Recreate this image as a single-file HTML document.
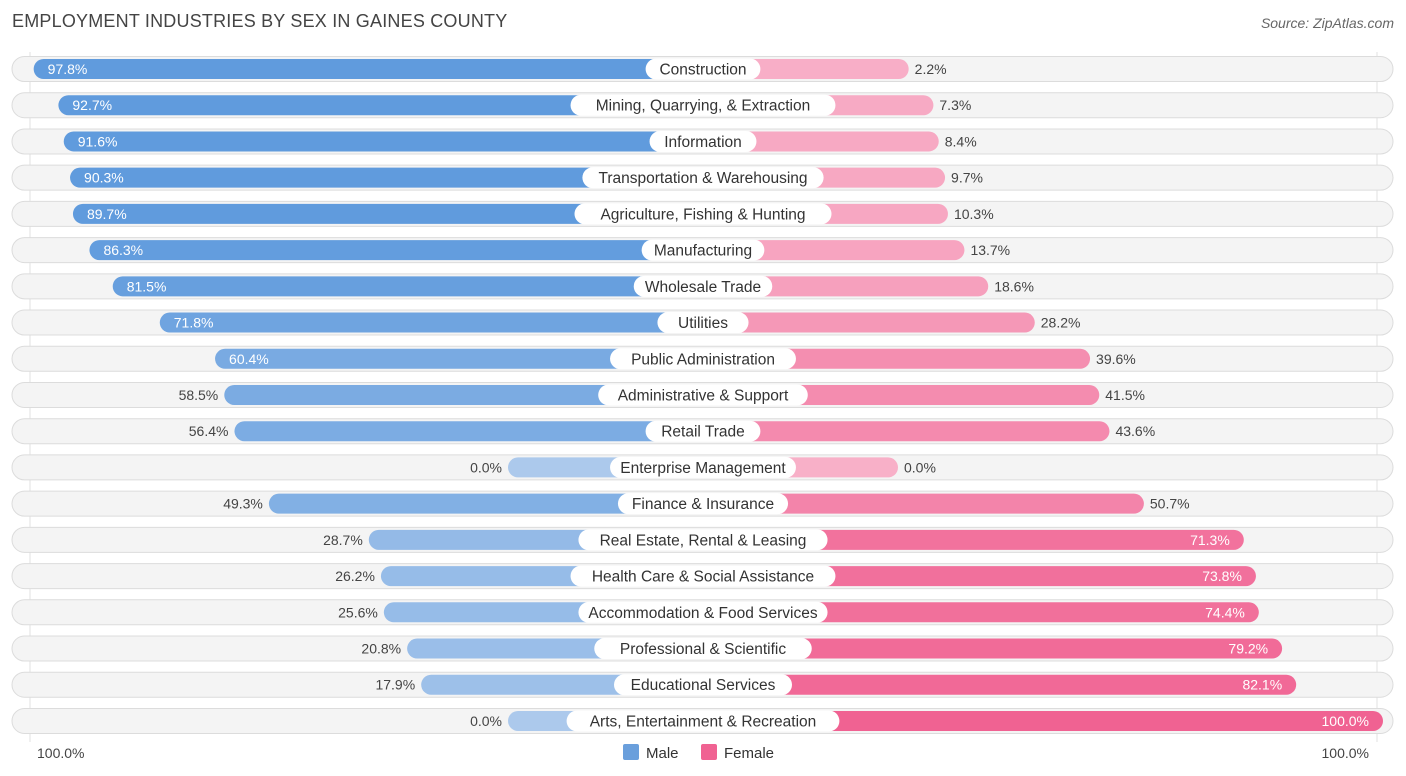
<!DOCTYPE html>
<html><head><meta charset="utf-8"><style>
body{margin:0;width:1406px;height:776px;background:#fff;font-family:"Liberation Sans",sans-serif;overflow:hidden;position:relative}
#title{position:absolute;left:12px;top:11px;font-size:18px;color:#444;letter-spacing:.2px}
#source{position:absolute;right:12px;top:15px;font-size:14px;color:#666;font-style:italic}
svg{position:absolute;left:0;top:0}
</style></head><body>
<div id="title">EMPLOYMENT INDUSTRIES BY SEX IN GAINES COUNTY</div>
<div id="source">Source: ZipAtlas.com</div>
<svg id="chart" width="1406" height="776"></svg>
<script>
const categories=["Construction","Mining, Quarrying, & Extraction","Information","Transportation & Warehousing","Agriculture, Fishing & Hunting","Manufacturing","Wholesale Trade","Utilities","Public Administration","Administrative & Support","Retail Trade","Enterprise Management","Finance & Insurance","Real Estate, Rental & Leasing","Health Care & Social Assistance","Accommodation & Food Services","Professional & Scientific","Educational Services","Arts, Entertainment & Recreation"];
const maleValues=[97.8,92.7,91.6,90.3,89.7,86.3,81.5,71.8,60.4,58.5,56.4,0.0,49.3,28.7,26.2,25.6,20.8,17.9,0.0];
const femaleValues=[2.2,7.3,8.4,9.7,10.3,13.7,18.6,28.2,39.6,41.5,43.6,0.0,50.7,71.3,73.8,74.4,79.2,82.1,100.0];
const NS="http://www.w3.org/2000/svg";
const svg=document.getElementById('chart');
const cx=703, stub=195, scale=4.85, y0=69, step=36.22, barH=20;
const xM=v=>cx-stub-v*scale, xF=v=>cx+stub+v*scale, yRow=i=>y0+i*step;
function mk(t,a){const e=document.createElementNS(NS,t);for(const k in a)e.setAttribute(k,a[k]);svg.appendChild(e);return e;}
function mix(a,b,t){return 'rgb('+a.map((c,i)=>Math.round(c+(b[i]-c)*t)).join(',')+')';}
const mLight=[172,201,236],mDark=[96,155,221],fLight=[248,176,200],fDark=[240,98,146];
let l=mk('line',{x1:30,y1:52,x2:30,y2:742,stroke:'#e2e2e2'});

l=mk('line',{x1:1377,y1:52,x2:1377,y2:742,stroke:'#e2e2e2'});

categories.forEach((c,i)=>{
 const y=yRow(i);
 const bg=mk('rect',{x:12,y:y-12.5,width:1381,height:25,rx:12.5,fill:'#f4f4f4',stroke:'#dcdcdc','stroke-width':1});
 
 const mv=maleValues[i],fv=femaleValues[i];
 const mx=xM(mv), fx=xF(fv);
 const mb=mk('rect',{x:mx,y:y-barH/2,width:cx-mx,height:barH,rx:10,fill:mix(mLight,mDark,Math.min(1,mv/90))});
 
 const fb=mk('rect',{x:cx,y:y-barH/2,width:fx-cx,height:barH,rx:10,fill:mix(fLight,fDark,Math.min(1,fv/90))});
 
 const tw=c.length*7.9+20;
 const lb=mk('rect',{x:cx-tw/2,y:y-10.5,width:tw,height:21,rx:10.5,fill:'#fff'});
 
 const t=mk('text',{x:cx,y:y+5.5,'text-anchor':'middle','font-size':15.5,fill:'#333'});t.textContent=c;
 
 const mIn=mv>=60, fIn=fv>=60;
 const mt=mk('text',{x:mIn?mx+14:mx-6,y:y+5,'text-anchor':mIn?'start':'end','font-size':14,fill:mIn?'#fff':'#444'});
 mt.textContent=mv.toFixed(1)+'%';
 const ft=mk('text',{x:fIn?fx-14:fx+6,y:y+5,'text-anchor':fIn?'end':'start','font-size':14,fill:fIn?'#fff':'#444'});
 ft.textContent=fv.toFixed(1)+'%';
});
let t=mk('text',{x:37,y:758,'font-size':14,fill:'#444'});t.textContent='100.0%';

t=mk('text',{x:1369,y:758,'font-size':14,fill:'#444','text-anchor':'end'});t.textContent='100.0%';

let r=mk('rect',{x:623,y:744,width:16,height:16,rx:2,fill:'#6a9fdc'});

t=mk('text',{x:646,y:758,'font-size':15,fill:'#333'});t.textContent='Male';

r=mk('rect',{x:701,y:744,width:16,height:16,rx:2,fill:'#f06292'});

t=mk('text',{x:724,y:758,'font-size':15,fill:'#333'});t.textContent='Female';

</script>
</body></html>
